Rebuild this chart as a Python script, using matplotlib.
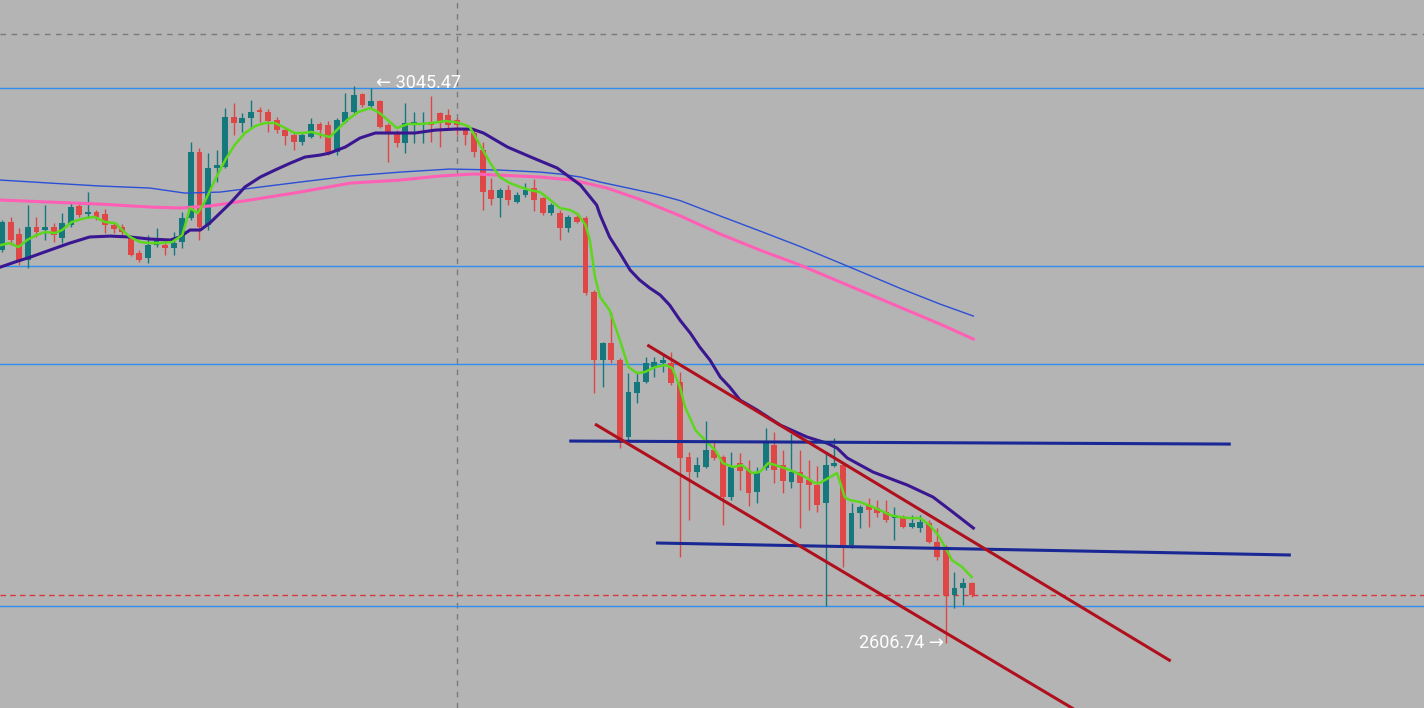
import matplotlib
matplotlib.use("Agg")
import matplotlib.pyplot as plt
from matplotlib.patches import Rectangle

# ---------------- data (prices) ----------------
opens = [2917.4, 2939.5, 2930.0, 2909.5, 2935.6, 2933.2, 2935.6, 2926.9, 2937.1, 2952.2,
         2945.8, 2947.4, 2945.8, 2937.1, 2935.6, 2926.9, 2915.0, 2911.0, 2921.3, 2921.3,
         2919.0, 2923.7, 2942.7, 2994.8, 2937.1, 2982.2, 2983.0, 3022.5, 3017.8, 3021.7,
         3028.0, 3026.5, 3020.1, 3012.2, 3008.3, 3002.7, 3006.7, 3017.0, 3016.2, 2994.8,
         3018.6, 3026.5, 3040.7, 3031.2, 3035.2, 3016.2, 3010.7, 3002.0, 3017.8, 3016.2,
         3018.6, 3025.7, 3024.1, 3020.1, 3012.2, 3009.9, 2996.4, 2964.8, 2958.5, 2964.8,
         2955.3, 2960.9, 2966.4, 2958.5, 2946.6, 2946.6, 2934.8, 2943.5, 2942.7, 2884.2,
         2830.4, 2843.9, 2830.4, 2769.6, 2804.3, 2813.0, 2824.9, 2828.0, 2828.0, 2813.0,
         2753.7, 2741.9, 2745.8, 2759.3, 2753.7, 2722.1, 2749.0, 2743.5, 2726.1, 2745.0,
         2763.2, 2747.4, 2734.0, 2741.9, 2735.6, 2731.6, 2717.4, 2746.6, 2747.4, 2684.2,
         2709.5, 2715.8, 2713.4, 2710.3, 2705.5, 2705.5, 2698.4, 2697.6, 2701.6, 2686.5,
         2682.6, 2644.7, 2650.2, 2654.1]
highs = [2941.1, 2943.5, 2934.8, 2952.9, 2943.5, 2952.9, 2938.7, 2946.6, 2954.5, 2954.5,
         2963.2, 2949.0, 2949.8, 2939.5, 2937.9, 2928.4, 2917.4, 2929.2, 2934.8, 2925.3,
         2931.6, 2947.4, 3002.7, 2998.0, 2994.1, 2996.4, 3029.6, 3033.6, 3025.7, 3036.0,
         3030.4, 3028.8, 3022.5, 3014.6, 3010.7, 3010.7, 3021.7, 3018.6, 3019.3, 3021.7,
         3041.5, 3047.0, 3041.5, 3045.47, 3036.0, 3017.8, 3012.2, 3033.6, 3026.5, 3026.5,
         3039.1, 3026.5, 3028.8, 3021.7, 3013.8, 3013.8, 3002.7, 2974.3, 2966.4, 2968.8,
         2963.2, 2970.3, 2973.5, 2959.3, 2954.5, 2949.0, 2945.0, 2945.0, 2944.3, 2885.8,
         2844.6, 2868.4, 2832.0, 2820.1, 2820.1, 2832.8, 2832.8, 2834.4, 2836.7, 2820.9,
         2757.7, 2753.7, 2782.2, 2767.2, 2755.3, 2757.7, 2756.9, 2751.4, 2745.8, 2776.7,
         2773.5, 2759.3, 2771.9, 2759.3, 2751.4, 2746.6, 2756.9, 2768.8, 2749.0, 2717.4,
         2715.8, 2721.3, 2719.7, 2719.7, 2714.2, 2707.9, 2707.9, 2707.9, 2703.9, 2697.6,
         2684.2, 2662.8, 2658.1, 2654.9]
lows = [2915.8, 2921.3, 2905.5, 2903.1, 2927.7, 2925.3, 2923.7, 2922.9, 2935.6, 2943.5,
        2943.5, 2941.1, 2930.8, 2930.8, 2928.4, 2912.6, 2907.9, 2907.1, 2919.7, 2913.4,
        2913.4, 2919.0, 2941.1, 2925.3, 2933.2, 2971.1, 2982.2, 3008.3, 3010.7, 3013.8,
        3018.6, 3010.7, 3009.9, 3000.4, 2996.4, 3000.4, 3005.9, 3005.9, 2992.5, 2992.5,
        3017.8, 3025.7, 3030.4, 3030.4, 3013.8, 2986.9, 2998.8, 2994.1, 3002.0, 3002.0,
        3002.7, 2998.8, 3012.2, 3008.3, 3000.4, 2990.9, 2949.0, 2952.9, 2943.5, 2952.9,
        2954.5, 2959.3, 2948.2, 2945.0, 2945.0, 2925.3, 2931.6, 2938.7, 2881.8, 2804.3,
        2809.1, 2828.0, 2760.9, 2767.2, 2796.4, 2812.2, 2817.0, 2820.9, 2810.7, 2674.7,
        2703.9, 2737.9, 2745.0, 2751.4, 2700.0, 2719.7, 2727.7, 2715.0, 2717.4, 2743.5,
        2733.2, 2725.3, 2729.2, 2697.6, 2711.8, 2710.3, 2636.0, 2745.8, 2666.8, 2681.8,
        2697.6, 2698.4, 2706.3, 2702.4, 2688.1, 2697.6, 2697.6, 2694.5, 2685.8, 2672.3,
        2606.74, 2634.4, 2636.7, 2643.1]
closes = [2939.5, 2925.3, 2908.7, 2935.6, 2931.6, 2935.6, 2929.2, 2938.7, 2951.4, 2945.0,
          2947.4, 2943.5, 2937.1, 2934.0, 2931.6, 2913.4, 2909.5, 2921.3, 2925.3, 2919.0,
          2922.9, 2942.7, 2994.8, 2935.6, 2982.2, 2984.6, 3022.5, 3017.8, 3021.7, 3026.5,
          3026.5, 3019.3, 3012.2, 3007.5, 3002.7, 3008.3, 3017.0, 3012.2, 2994.8, 3020.1,
          3026.5, 3039.9, 3032.0, 3035.2, 3014.6, 3009.9, 3002.0, 3017.8, 3018.6, 3017.8,
          3016.2, 3017.8, 3016.2, 3016.2, 3008.3, 2994.8, 2963.2, 2957.7, 2964.8, 2956.9,
          2960.9, 2964.8, 2956.9, 2946.6, 2952.9, 2934.8, 2943.5, 2939.5, 2883.4, 2830.4,
          2843.9, 2830.4, 2767.2, 2805.1, 2813.0, 2828.0, 2828.8, 2830.4, 2812.2, 2753.0,
          2741.9, 2747.4, 2759.3, 2753.0, 2722.1, 2745.8, 2742.7, 2725.3, 2741.1, 2764.8,
          2743.5, 2734.8, 2741.9, 2733.2, 2731.6, 2715.8, 2747.4, 2749.0, 2684.2, 2709.5,
          2714.2, 2711.8, 2709.5, 2703.9, 2707.9, 2698.4, 2701.6, 2702.4, 2686.5, 2674.7,
          2644.7, 2650.2, 2654.1, 2644.7]

# moving averages, sampled from the chart (x = candle index, y = price)
fast_ma_x = [-0.2, 0.9, 1.9, 2.9, 4.0, 5.0, 6.2, 7.0, 8.1, 9.7, 10.8, 12.0, 13.2, 14.0, 14.9,
             16.1, 17.2, 18.4, 19.8, 21.0, 21.9, 22.8, 23.6, 24.8, 26.0, 27.1, 28.3, 29.5,
             30.6, 31.8, 33.0, 34.1, 35.0, 36.1, 37.3, 38.2, 39.0, 40.2, 41.5, 42.9, 44.0,
             45.2, 46.0, 47.3, 48.7, 50.1, 51.6, 52.8, 54.0, 54.5, 55.7, 56.9, 58.0, 59.2,
             60.4, 61.5, 62.7, 63.9, 65.0, 66.2, 67.1, 68.0, 68.5, 69.1, 69.7, 70.8, 72.0,
             73.0, 74.0, 74.9, 76.1, 77.3, 78.1, 79.0, 79.6, 80.8, 81.9, 83.1, 84.0, 85.2,
             86.2, 87.4, 88.3, 89.3, 90.1, 91.2, 92.4, 93.6, 94.7, 95.3, 96.5, 97.3, 97.7,
             98.2, 98.8, 100.0, 101.2, 102.3, 103.5, 104.6, 105.8, 107.0, 108.1, 109.1,
             109.9, 110.7, 111.9, 113.0]
fast_ma_y = [2921.3, 2922.9, 2919.7, 2925.3, 2929.2, 2931.6, 2930.8, 2933.2, 2939.5, 2942.7,
             2943.5, 2939.5, 2938.7, 2933.2, 2927.7, 2923.7, 2922.9, 2922.9, 2923.7, 2929.2,
             2950.6, 2946.6, 2955.3, 2972.7, 2988.5, 3000.4, 3009.9, 3015.4, 3017.8, 3017.8,
             3013.8, 3009.9, 3009.9, 3010.7, 3008.3, 3006.7, 3012.2, 3020.1, 3026.5, 3029.6,
             3025.7, 3018.6, 3013.8, 3017.0, 3017.0, 3017.8, 3019.3, 3018.6, 3016.2, 3014.6,
             3000.4, 2986.1, 2975.1, 2970.3, 2967.2, 2964.8, 2963.2, 2956.9, 2950.6, 2949.0,
             2945.8, 2937.1, 2925.3, 2896.0, 2880.2, 2869.9, 2846.2, 2824.9, 2820.1, 2820.9,
             2824.9, 2826.5, 2824.1, 2809.1, 2793.3, 2775.1, 2767.2, 2759.3, 2749.0, 2745.8,
             2747.4, 2741.1, 2741.9, 2749.0, 2747.4, 2745.0, 2741.9, 2737.9, 2733.2, 2733.2,
             2737.9, 2741.1, 2733.2, 2722.1, 2719.7, 2718.2, 2715.0, 2711.8, 2707.9, 2706.3,
             2705.5, 2705.5, 2700.0, 2692.1, 2682.6, 2672.3, 2666.8, 2658.9]

mid_ma_x = [-0.2, 1.5, 3.3, 5.6, 7.9, 10.2, 12.6, 14.9, 17.2, 19.6, 20.7, 21.9, 23.1, 24.2,
            25.4, 26.6, 28.3, 30.1, 31.8, 33.6, 35.3, 37.1, 38.2, 40.0, 41.7, 43.5, 45.8,
            48.1, 50.5, 52.8, 54.8, 56.1, 58.9, 61.9, 64.7, 67.4, 69.3, 69.7, 70.8, 72.0,
            73.2, 74.3, 75.5, 76.7, 77.8, 79.0, 80.2, 81.3, 82.5, 83.7, 84.8, 86.0, 88.0,
            90.7, 93.8, 96.1, 97.3, 98.5, 101.5, 105.5, 108.5, 110.5, 113.2]
mid_ma_y = [2903.9, 2907.9, 2911.8, 2917.4, 2922.9, 2927.7, 2928.4, 2927.7, 2926.1, 2925.3,
            2927.7, 2933.2, 2933.2, 2938.7, 2946.6, 2954.5, 2967.2, 2975.1, 2980.6, 2986.1,
            2990.9, 2992.5, 2994.1, 2998.8, 3005.9, 3009.9, 3009.9, 3009.9, 3012.2, 3013.0,
            3013.0, 3009.9, 2998.8, 2990.1, 2982.2, 2968.8, 2952.9, 2945.0, 2927.7, 2915.0,
            2901.5, 2893.7, 2887.3, 2881.8, 2873.9, 2862.0, 2851.8, 2840.7, 2830.4, 2817.0,
            2809.1, 2798.8, 2790.9, 2779.0, 2769.6, 2764.8, 2760.9, 2753.0, 2741.9, 2731.6,
            2722.1, 2711.8, 2697.6]

slow_ma_x = [-0.2, 5.6, 11.4, 17.2, 21.3, 25.4, 30.1, 34.7, 40.6, 46.4, 52.2, 58.0, 62.7,
             65.0, 67.4, 69.7, 72.4, 76.3, 79.0, 83.7, 88.3, 93.0, 98.8, 104.6, 109.3, 113.2]
slow_ma_y = [2972.7, 2970.3, 2968.0, 2966.4, 2962.4, 2963.2, 2967.2, 2971.1, 2975.9, 2979.0,
             2981.4, 2980.6, 2979.0, 2977.5, 2975.1, 2971.1, 2967.2, 2961.5, 2956.5, 2944.3,
             2932.5, 2920.2, 2903.9, 2887.3, 2874.7, 2865.2]

pink_ma_x = [-0.2, 5.6, 11.4, 17.2, 20.7, 24.2, 28.9, 34.7, 40.6, 46.4, 51.0, 55.0, 62.7,
             66.5, 70.5, 74.3, 79.0, 83.7, 88.3, 93.0, 98.8, 104.6, 109.3, 113.2]
pink_ma_y = [2956.9, 2955.3, 2953.7, 2951.4, 2950.6, 2952.2, 2956.9, 2963.2, 2970.3, 2972.7,
             2975.9, 2977.5, 2975.1, 2972.7, 2966.4, 2957.5, 2944.5, 2930.0, 2917.4, 2905.5,
             2888.9, 2872.3, 2858.9, 2847.0]

# horizontal levels and drawn lines
level_prices = [3045.47, 2904.7, 2827.3, 2636.0]
current_price = 2644.7
grid_price = 3088.1
vline_index = 53.0
navy_lines = [((66.1, 2766.4), (143.2, 2764.0)), ((76.2, 2685.8), (150.2, 2676.3))]
channel_lines = [((75.2, 2842.3), (136.2, 2592.5)), ((69.1, 2779.8), (125.6, 2551.7))]
max_label = "\u2190 3045.47"
min_label = "2606.74 \u2192"
max_label_pos = (43.6, 3049.5)
min_label_pos = (109.8, 2606.74)

# ---------------- drawing ----------------
BG = "#b4b4b4"
UP = "#14787c"
DOWN = "#df4747"
FONT = ["Roboto", "DejaVu Sans"]

fig = plt.figure(figsize=(14.24, 7.08), dpi=100)
fig.patch.set_facecolor(BG)
ax = fig.add_axes([0, 0, 1, 1])
ax.set_facecolor(BG)
ax.set_xlim(-0.245, 165.72)
ax.set_ylim(2555.36, 3115.04)
ax.axis("off")

# grid-ish dashed lines
ax.axhline(grid_price, color="#7a7a7a", lw=1.0, ls=(0, (4, 4)), zorder=1)
ax.axvline(vline_index, color="#7a7a7a", lw=1.0, ls=(0, (4, 4)), zorder=1)

for p in level_prices:
    ax.axhline(p, color="#2e8ff0", lw=1.0, zorder=2)
ax.axhline(current_price, color="#d9363e", lw=1.0, ls=(0, (4, 3)), zorder=2)

# candles
bw = 0.68
for i, (o, h, l, c) in enumerate(zip(opens, highs, lows, closes)):
    col = UP if c >= o else DOWN
    ax.plot([i, i], [l, h], color=col, lw=1.0, zorder=3, solid_capstyle="butt")
    bottom = min(o, c)
    height = max(abs(c - o), 0.8)
    ax.add_patch(Rectangle((i - bw / 2, bottom), bw, height, facecolor=col,
                           edgecolor="none", zorder=4))

# moving averages
ax.plot(slow_ma_x, slow_ma_y, color="#2c4fd6", lw=1.0, zorder=5)
ax.plot(pink_ma_x, pink_ma_y, color="#ff5fb4", lw=2.2, zorder=5)
ax.plot(mid_ma_x, mid_ma_y, color="#3a1791", lw=2.2, zorder=6)
ax.plot(fast_ma_x, fast_ma_y, color="#5dd61e", lw=1.8, zorder=7)

# trend lines
for (x0, y0), (x1, y1) in navy_lines:
    ax.plot([x0, x1], [y0, y1], color="#1a2896", lw=2.2, zorder=8, solid_capstyle="butt")
for (x0, y0), (x1, y1) in channel_lines:
    ax.plot([x0, x1], [y0, y1], color="#b0101e", lw=2.2, zorder=8, solid_capstyle="butt")

ax.text(*max_label_pos, max_label, color="white", fontsize=13, family=FONT,
        ha="left", va="center", zorder=9)
ax.text(*min_label_pos, min_label, color="white", fontsize=13, family=FONT,
        ha="right", va="center", zorder=9)

fig.savefig("out.png", dpi=100, facecolor=BG)
